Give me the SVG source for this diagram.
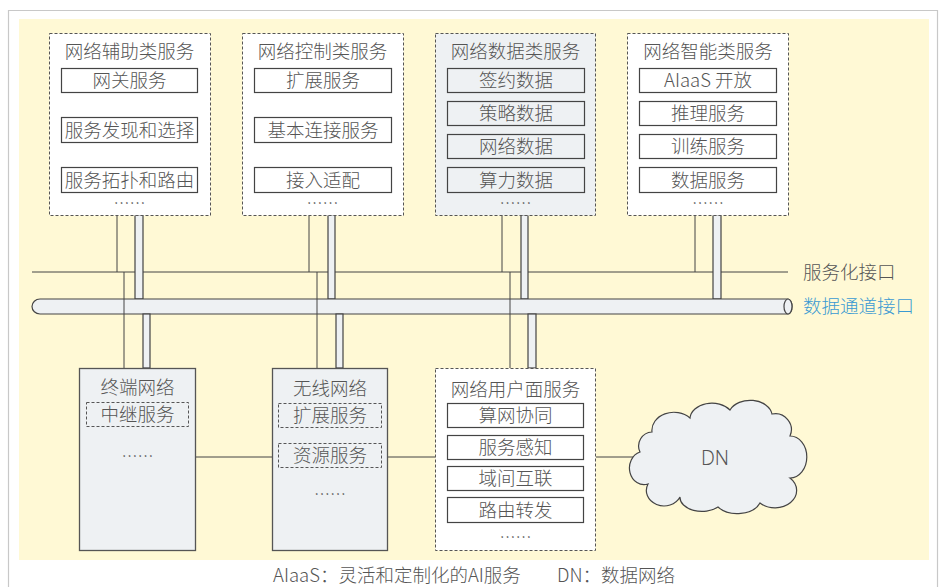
<svg xmlns="http://www.w3.org/2000/svg" width="943" height="587" viewBox="0 0 943 587">
<style>
text{font-family:"Noto Sans CJK SC","Noto Sans",sans-serif;fill:#555;font-size:18.5px;font-weight:300;text-anchor:middle}
.dash{fill:#fff;stroke:#555;stroke-width:1;stroke-dasharray:3 2}
.dashg{fill:#EEF1F3;stroke:#555;stroke-width:1;stroke-dasharray:3 2}
.item{fill:#fff;stroke:#444;stroke-width:1.2}
.itemg{fill:#EEF1F3;stroke:#444;stroke-width:1.2}
.solid{fill:#EEF1F3;stroke:#555;stroke-width:1.3}
.thin{stroke:#444;stroke-width:1;fill:none}
.pipe{fill:#EEF1F3;stroke:#444;stroke-width:1.2}
.dots{font-size:16px}
</style>
<rect x="0" y="0" width="943" height="587" fill="#fff"/>
<path d="M8.5 600 V10.5 H937.5 V600" fill="none" stroke="#C8C8C8" stroke-width="1.2"/>
<rect x="19" y="19" width="910" height="541" fill="#FFF9D5"/>

<g id="connectors">
  <line class="thin" x1="32" y1="272" x2="788" y2="272"/>
  <line class="thin" x1="117" y1="215" x2="117" y2="272"/>
  <line class="thin" x1="309" y1="215" x2="309" y2="272"/>
  <line class="thin" x1="502" y1="215" x2="502" y2="272"/>
  <line class="thin" x1="695" y1="215" x2="695" y2="272"/>
  <rect class="pipe" x="135" y="215" width="8" height="84"/>
  <rect class="pipe" x="328" y="215" width="7" height="84"/>
  <rect class="pipe" x="521" y="215" width="7" height="84"/>
  <rect class="pipe" x="713" y="215" width="8" height="84"/>
  <path class="pipe" d="M40 299 H788 A4 7.5 0 0 1 788 314 H40 A8 7.5 0 0 1 40 299 Z"/>
  <ellipse class="pipe" cx="788" cy="306.5" rx="4" ry="7.5"/>
  <rect class="pipe" x="143" y="314" width="7" height="54"/>
  <rect class="pipe" x="336" y="314" width="7" height="54"/>
  <rect class="pipe" x="528" y="314" width="8" height="54"/>
  <line class="thin" x1="124" y1="272" x2="124" y2="368"/>
  <line class="thin" x1="317" y1="272" x2="317" y2="368"/>
  <line class="thin" x1="510" y1="272" x2="510" y2="368"/>
  <line class="thin" x1="196" y1="457" x2="272" y2="457"/>
  <line class="thin" x1="388" y1="457" x2="435" y2="457"/>
  <line class="thin" x1="596" y1="457" x2="637" y2="457"/>
</g>

<text x="803" y="279" style="text-anchor:start">服务化接口</text>
<text x="803" y="313" style="text-anchor:start;fill:#3A9AD2">数据通道接口</text>

<g id="aux">
  <rect class="dash" x="49.5" y="33.5" width="161" height="182"/>
  <text x="129.5" y="57.5">网络辅助类服务</text>
  <rect class="item" x="61.5" y="68.5" width="136" height="24"/>
  <text x="129.5" y="87">网关服务</text>
  <rect class="item" x="61.5" y="117.5" width="136" height="25"/>
  <text x="129.5" y="136.5">服务发现和选择</text>
  <rect class="item" x="61.5" y="167.5" width="136" height="25"/>
  <text x="129.5" y="186.5">服务拓扑和路由</text>
  <text class="dots" x="129.5" y="209">……</text>
</g>

<g id="ctrl">
  <rect class="dash" x="242.5" y="33.5" width="161" height="182"/>
  <text x="322.5" y="57.5">网络控制类服务</text>
  <rect class="item" x="254.5" y="68.5" width="137" height="24"/>
  <text x="323" y="87">扩展服务</text>
  <rect class="item" x="254.5" y="117.5" width="137" height="25"/>
  <text x="323" y="136.5">基本连接服务</text>
  <rect class="item" x="254.5" y="167.5" width="137" height="25"/>
  <text x="323" y="186.5">接入适配</text>
  <text class="dots" x="322.5" y="209">……</text>
</g>

<g id="data">
  <rect class="dashg" x="435.5" y="33.5" width="160" height="182"/>
  <text x="515.5" y="57.5">网络数据类服务</text>
  <rect class="itemg" x="447.5" y="68.5" width="137" height="24"/>
  <text x="516" y="87">签约数据</text>
  <rect class="itemg" x="447.5" y="101.5" width="137" height="24"/>
  <text x="516" y="120">策略数据</text>
  <rect class="itemg" x="447.5" y="134.5" width="137" height="24"/>
  <text x="516" y="153">网络数据</text>
  <rect class="itemg" x="447.5" y="167.5" width="137" height="25"/>
  <text x="516" y="186.5">算力数据</text>
  <text class="dots" x="515.5" y="209">……</text>
</g>

<g id="intel">
  <rect class="dash" x="627.5" y="33.5" width="161" height="182"/>
  <text x="708" y="57.5">网络智能类服务</text>
  <rect class="item" x="639.5" y="68.5" width="137" height="24"/>
  <text x="708" y="87">AIaaS 开放</text>
  <rect class="item" x="639.5" y="101.5" width="137" height="24"/>
  <text x="708" y="120">推理服务</text>
  <rect class="item" x="639.5" y="134.5" width="137" height="24"/>
  <text x="708" y="153">训练服务</text>
  <rect class="item" x="639.5" y="167.5" width="137" height="25"/>
  <text x="708" y="186.5">数据服务</text>
  <text class="dots" x="708" y="209">……</text>
</g>

<g id="terminal">
  <rect class="solid" x="79.5" y="368.5" width="116" height="182"/>
  <text x="137.5" y="393.5">终端网络</text>
  <rect class="dashg" x="86.5" y="402.5" width="102" height="24"/>
  <text x="137.5" y="421">中继服务</text>
  <text class="dots" x="137.5" y="462">……</text>
</g>

<g id="wireless">
  <rect class="solid" x="272.5" y="368.5" width="115" height="182"/>
  <text x="330" y="395">无线网络</text>
  <rect class="dashg" x="278.5" y="403.5" width="103" height="24"/>
  <text x="330" y="422">扩展服务</text>
  <rect class="dashg" x="278.5" y="443.5" width="103" height="24"/>
  <text x="330" y="462">资源服务</text>
  <text class="dots" x="330" y="500">……</text>
</g>

<g id="userplane">
  <rect class="dash" x="435.5" y="368.5" width="160" height="182"/>
  <text x="515.5" y="396">网络用户面服务</text>
  <rect class="item" x="447.5" y="403.5" width="136" height="24"/>
  <text x="515.5" y="422">算网协同</text>
  <rect class="item" x="447.5" y="435.5" width="136" height="24"/>
  <text x="515.5" y="454">服务感知</text>
  <rect class="item" x="447.5" y="466.5" width="136" height="24"/>
  <text x="515.5" y="485">域间互联</text>
  <rect class="item" x="447.5" y="497.5" width="136" height="25"/>
  <text x="515.5" y="516.5">路由转发</text>
  <text class="dots" x="515.5" y="543">……</text>
</g>

<g id="dn">
  <path d="M640 452 A14 14 0 0 1 652 432 A22 18 0 0 1 690 418 A22 16 0 0 1 730 410 A22 16 0 0 1 772 414 A16 16 0 0 1 790 436 A16 20 0 0 1 790 478 A20 16 0 0 1 760 503 A24 16 0 0 1 718 507 A22 14 0 0 1 680 497 A16 14 0 0 1 648 484 A14 16 0 0 1 640 452 Z" fill="#EEF1F3" stroke="#444" stroke-width="1.2"/>
  <text x="715" y="465" style="font-family:'Noto Sans',sans-serif;font-size:19.5px">DN</text>
</g>

<text x="273" y="582" style="text-anchor:start">AIaaS：灵活和定制化的AI服务</text>
<text x="557" y="582" style="text-anchor:start">DN：数据网络</text>
</svg>
